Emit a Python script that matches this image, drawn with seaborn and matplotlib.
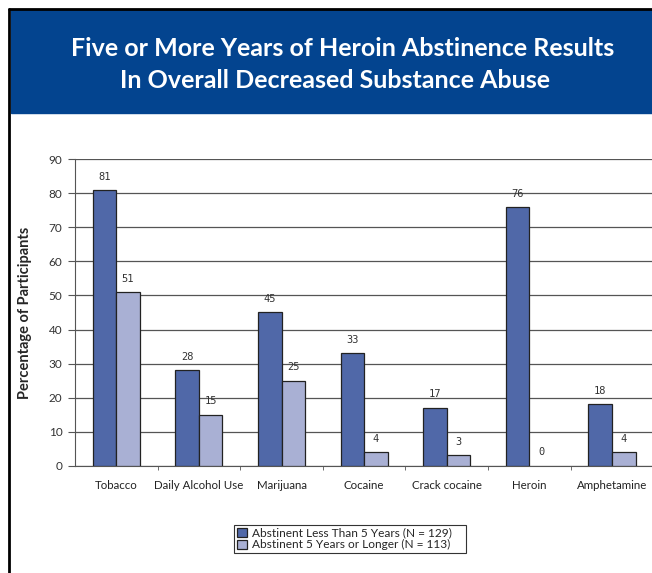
import pandas as pd
import seaborn as sns
from matplotlib import pyplot as plt
from matplotlib.patches import Rectangle
from matplotlib.lines import Line2D

substances = ["Tobacco", "Daily Alcohol Use", "Marijuana", "Cocaine",
              "Crack cocaine", "Heroin", "Amphetamine"]
less_than_5 = [81, 28, 45, 33, 17, 76, 18]
five_or_more = [51, 15, 25, 4, 3, 0, 4]
groups = ["Abstinent Less Than 5 Years (N = 129)",
          "Abstinent 5 Years or Longer (N = 113)"]

df = pd.DataFrame({
    "substance": substances * 2,
    "pct": less_than_5 + five_or_more,
    "group": [groups[0]] * len(substances) + [groups[1]] * len(substances),
})

sns.set_style("white")
plt.rcParams["font.family"] = ["Lato", "DejaVu Sans"]

fig = plt.figure(figsize=(6.52, 5.73), dpi=100)
ax = fig.add_axes([0.115, 0.1873, 0.887, 0.5347])

# header band and page border
fig.patches.append(Rectangle((11 / 652, 1 - 113 / 573), 1, 103 / 573,
                             transform=fig.transFigure, color="#03448f", zorder=0))
fig.lines.append(Line2D([9 / 652, 1], [1 - 9 / 573, 1 - 9 / 573],
                        transform=fig.transFigure, color="black", lw=2))
fig.lines.append(Line2D([9 / 652, 9 / 652], [0, 1 - 9 / 573],
                        transform=fig.transFigure, color="black", lw=2))
fig.text(0.525, 1 - 48 / 573, "Five or More Years of Heroin Abstinence Results",
         color="white", fontsize=18, fontweight="bold", ha="center", va="center")
fig.text(0.514, 1 - 80 / 573, "In Overall Decreased Substance Abuse",
         color="white", fontsize=18, fontweight="bold", ha="center", va="center")

sns.barplot(data=df, x="substance", y="pct", hue="group", ax=ax,
            palette=["#5068a8", "#a9b0d4"], width=0.57,
            edgecolor="#222222", linewidth=0.9, saturation=1, zorder=3)

for cont in ax.containers:
    for bar in cont:
        # zero-height bars show no outline in the original
        if bar.get_height() == 0:
            bar.set_linewidth(0)
    ax.bar_label(cont, padding=6, fontsize=7.5, color="#333333",
                 family=["DejaVu Sans Mono"])

ax.set_ylim(0, 90)
ax.set_xlim(-0.5, 6.5)
ax.set_yticks(range(0, 91, 10))
ax.yaxis.grid(True, color="#555555", lw=0.9)
ax.set_axisbelow(True)
for s in ["top", "right"]:
    ax.spines[s].set_visible(False)
ax.spines["left"].set_color("#555555")
ax.spines["bottom"].set_color("#555555")
ax.tick_params(axis="y", left=True, length=5, color="#555555",
               labelsize=8.5, labelcolor="#333333", pad=4)
ax.tick_params(axis="x", bottom=False, labelsize=8.3, labelcolor="#222222", pad=7)
ax.set_xticks(range(len(substances)), substances)
ax.set_xticks([i + 0.5 for i in range(len(substances) - 1)], minor=True)
ax.tick_params(axis="x", which="minor", bottom=True, length=3, color="#555555")
ax.set_xlabel("")
ax.set_ylabel("Percentage of Participants", fontsize=10.5, fontweight="bold",
              labelpad=12)

handles, labels = ax.get_legend_handles_labels()
ax.get_legend().remove()
leg = fig.legend(handles, labels, loc="center",
                 bbox_to_anchor=(228 / 652, 1 - 539 / 573, 244 / 652, 0),
                 mode="expand",
                 fontsize=8.6, frameon=True, fancybox=False, framealpha=1,
                 edgecolor="#333333", handlelength=0.8, handleheight=0.8,
                 handletextpad=0.5, borderpad=0.25, labelspacing=0.05)
leg.get_frame().set_linewidth(0.8)

fig.savefig("out.png", dpi=100)
